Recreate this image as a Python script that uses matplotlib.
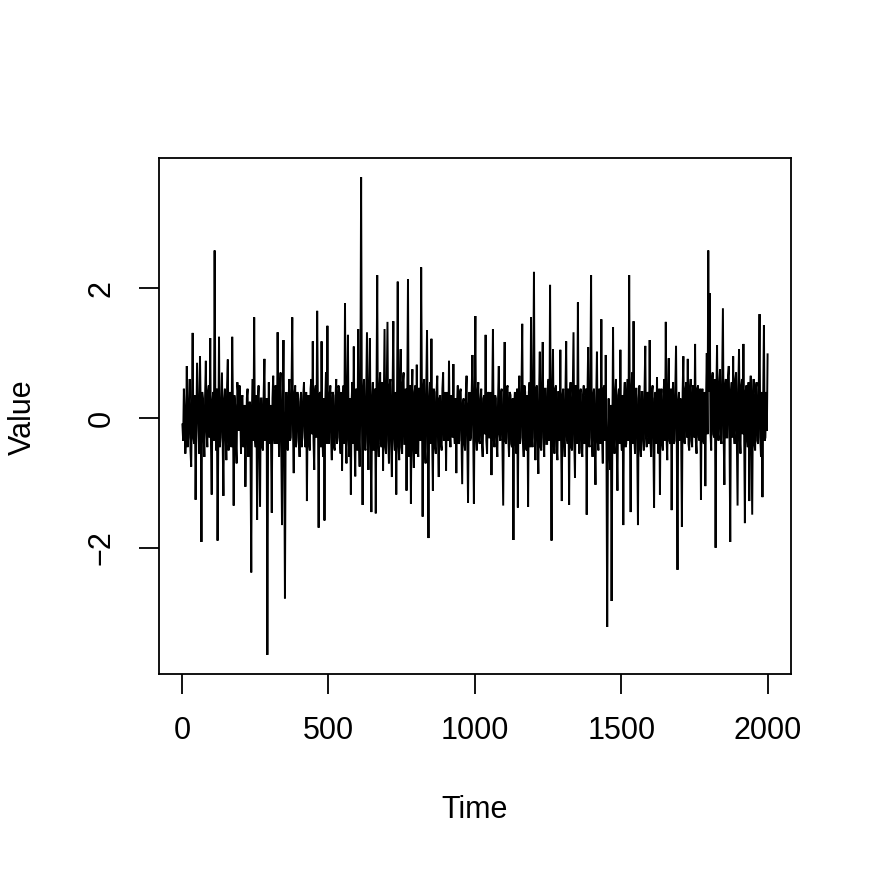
import numpy as np
import matplotlib
matplotlib.use("Agg")
import matplotlib.pyplot as plt

plt.rcParams['font.family'] = ['Liberation Sans', 'DejaVu Sans']

# Series values (one value about every 2.5 time steps)
values = [
    -0.10, -0.35, 0.45, 0.10, -0.55, -0.20, 0.80, -0.45, -0.30, 0.25, 0.60, -0.50, -0.75, 0.20, 1.31, -0.30, -0.40, 0.35, -1.26, -0.15,
    0.85, 0.30, -0.20, -0.55, 0.95, 0.15, -1.91, 0.40, 0.30, -0.25, -0.60, 0.35, 0.88, -0.20, -0.45, 0.40, 0.50, -0.30, 1.23, -0.40,
    -1.18, 0.25, 0.40, -0.35, 2.58, 0.10, -0.50, 0.45, -1.89, -0.20, 1.25, -0.45, -0.30, 0.20, 0.70, -0.40, -1.20, 0.30, 0.45, -0.25,
    -0.65, 0.50, 0.90, -0.50, -0.35, 0.40, 0.30, -0.45, 1.25, 0.15, -1.35, 0.35, 0.20, -0.40, -0.70, 0.55, 0.40, -0.20, 0.50, 0.10,
    -0.55, 0.30, 0.35, -0.45, -0.40, 0.20, -1.06, -0.30, 0.31, 0.45, -0.60, -0.10, 0.25, -0.55, -2.38, 0.20, 0.60, -0.35, 1.55, -0.30,
    -0.45, 0.35, -1.57, 0.25, 0.50, -0.40, -1.37, 0.30, 0.30, -0.45, -0.50, 0.40, 0.91, -0.35, -0.25, 0.30, -3.65, -0.20, 0.55, -0.40,
    0.20, -0.35, -1.46, 0.30, 0.65, -0.25, -0.40, 0.50, 0.45, -0.40, 1.32, 0.10, -0.60, 0.35, 0.70, -0.50, -1.65, 0.25, 1.20, -0.40,
    -2.78, -0.10, 0.40, -0.45, -0.50, 0.30, 0.60, -0.35, -0.30, 0.45, 1.55, -0.20, -0.85, 0.35, 0.50, -0.45, -0.35, 0.40, 0.30, -0.30,
    -0.60, 0.25, 0.40, -0.45, -0.20, 0.35, 0.55, -0.30, -0.45, 0.40, -1.28, 0.15, 0.35, -0.40, -0.50, 0.45, 0.60, -0.25, 1.18, -0.35,
    -0.80, 0.40, 0.50, -0.30, 1.65, 0.20, -1.69, 0.35, 0.40, -0.45, 1.18, -0.20, -0.60, 0.30, -1.58, 0.20, 0.70, -0.40, 1.42, -0.30,
    -0.40, 0.35, 0.50, -0.30, -0.65, 0.40, 0.35, -0.45, -0.50, 0.30, 0.60, -0.40, -0.30, 0.50, 0.45, -0.35, -0.55, 0.40, -0.81, 0.20,
    0.50, -0.40, 1.77, -0.25, -0.70, 0.45, 1.28, -0.35, -0.60, 0.30, -1.18, 0.25, 0.55, -0.40, 1.10, -0.30, -0.90, 0.45, 0.40, -0.50,
    1.37, -0.30, -0.75, 0.40, 3.71, 0.20, -1.34, 0.35, 0.60, -0.45, -0.50, 0.45, 1.32, -0.35, -0.80, 0.50, 1.23, -0.40, -1.45, 0.30,
    0.55, -0.50, -0.40, 0.45, -1.47, 0.30, 2.20, -0.35, -0.60, 0.45, 0.70, -0.40, -0.45, 0.55, -0.81, 0.30, 1.37, -0.45, -0.55, 0.40,
    1.48, -0.35, -0.70, 0.50, 0.60, -0.40, -0.91, 0.45, 1.49, -0.30, -0.50, 0.40, -1.18, 0.25, 2.10, -0.40, -0.65, 0.50, 1.06, -0.45,
    -0.55, 0.55, 0.70, -0.40, -0.40, 0.45, -1.12, 0.30, 2.14, -0.35, -0.60, 0.50, -1.32, 0.35, 0.75, -0.45, -0.77, 0.40, 0.50, -0.55,
    0.82, -0.40, -0.60, 0.45, 0.45, -0.35, 2.32, 0.30, -1.52, 0.40, 0.60, -0.45, -0.70, 0.50, 1.35, -0.30, -1.85, 0.25, 0.55, -0.40,
    1.22, -0.30, -1.12, 0.45, 0.40, -0.45, -0.55, 0.40, 0.65, -0.35, -0.91, 0.30, 0.35, -0.40, -0.50, 0.45, 0.70, -0.35, -0.30, 0.40,
    -0.81, 0.25, 0.40, -0.35, 0.88, -0.20, -0.45, 0.35, 0.30, -0.30, 0.83, -0.25, -0.40, 0.30, -0.85, 0.20, 0.50, -0.40, -0.35, 0.40,
    0.45, -0.30, -1.02, 0.25, 0.30, -0.40, -0.50, 0.35, 0.65, -0.30, -1.31, 0.20, 0.40, -0.35, -0.30, 0.40, 0.97, -0.25, -1.32, 0.30,
    1.57, -0.30, -0.50, 0.40, 0.55, -0.35, -0.40, 0.30, 0.45, -0.40, -0.60, 0.30, 0.35, -0.25, 1.28, -0.35, -0.55, 0.35, 0.40, -0.30,
    -0.30, 0.40, -0.88, 0.25, 1.37, -0.30, -0.45, 0.35, 0.30, -0.40, -0.60, 0.30, 0.80, -0.25, -0.35, 0.40, 0.45, -0.40, -1.35, 0.30,
    1.17, -0.35, -0.40, 0.45, 0.50, -0.30, -0.60, 0.40, 0.35, -0.40, -0.45, 0.30, -1.88, 0.20, 0.40, -0.35, -0.55, 0.45, -1.38, 0.30,
    0.65, -0.40, -0.30, 0.45, 1.45, -0.35, -0.60, 0.50, 0.40, -0.45, -0.50, 0.35, -1.37, 0.40, 0.55, -0.45, 1.55, -0.30, -0.45, 0.50,
    2.25, -0.30, -0.65, 0.45, 0.50, -0.40, -0.86, 0.35, 1.02, -0.45, -0.50, 0.55, 1.17, -0.30, -0.60, 0.45, 0.45, -0.40, -0.40, 0.50,
    0.60, -0.35, 2.05, -0.20, -1.89, 0.35, 1.06, -0.40, -0.55, 0.45, 0.50, -0.45, -0.65, 0.40, 0.40, -0.35, 1.05, -0.30, -1.28, 0.35,
    0.45, -0.35, -0.60, 0.40, 1.18, -0.30, -0.40, 0.45, -1.34, 0.30, 0.55, -0.45, -0.50, 0.40, 1.32, -0.35, -0.92, 0.50, 0.40, -0.40,
    1.78, -0.25, -0.55, 0.40, 0.45, -0.45, -0.60, 0.35, 0.50, -0.40, -0.35, 0.45, -1.49, 0.30, 1.09, -0.40, -0.45, 0.50, 2.20, -0.30,
    -0.60, 0.35, 0.45, -0.40, -1.03, 0.30, 1.02, -0.35, -0.50, 0.45, 0.40, -0.40, 1.52, -0.30, -0.70, 0.45, 0.50, -0.35, 0.97, -0.45,
    -3.22, -0.50, 0.30, -0.40, -0.80, 0.20, -2.82, -0.30, 1.40, -0.35, -0.55, 0.40, 0.60, -0.45, -1.12, 0.35, 0.45, -0.40, 1.05, -0.30,
    -0.50, 0.35, -1.65, 0.30, 0.55, -0.45, -0.40, 0.40, 0.60, -0.35, 2.20, -0.20, -1.45, 0.40, 0.70, -0.40, 1.49, -0.30, -0.55, 0.45,
    0.45, -0.40, -1.65, 0.30, 0.50, -0.45, -0.60, 0.40, 0.40, -0.35, -0.50, 0.45, 1.11, -0.30, -0.45, 0.40, 0.35, -0.40, 1.20, -0.35,
    -0.60, 0.40, 0.50, -0.35, -1.38, 0.30, 0.40, -0.40, 0.63, -0.30, -0.55, 0.45, -1.18, 0.30, 0.45, -0.40, -0.50, 0.40, 0.60, -0.35,
    1.48, -0.30, -0.65, 0.40, 0.92, -0.35, -0.40, 0.45, -1.42, 0.30, 0.55, -0.40, -0.35, 0.45, 1.11, -0.30, -2.34, 0.25, 0.40, -0.35,
    0.30, -0.30, -1.68, 0.40, 0.95, -0.35, -0.40, 0.45, 0.55, -0.30, 0.91, -0.40, -0.50, 0.45, 0.60, -0.35, -0.45, 0.50, 0.40, -0.30,
    1.14, -0.35, -0.55, 0.45, 0.50, -0.30, -0.35, 0.45, -1.26, 0.30, 0.45, -0.35, -0.40, 0.40, -1.05, 0.30, 1.00, -0.25, 2.58, 0.40,
    1.92, -0.20, -0.50, 0.55, 0.70, -0.25, -0.30, 0.60, -2.00, 0.35, 1.12, -0.20, -0.35, 0.55, 0.75, -0.30, -0.40, 0.60, 1.69, -0.25,
    -1.03, 0.50, 0.60, -0.30, -0.30, 0.65, 0.80, -0.25, -1.91, 0.40, 0.55, -0.30, 0.95, -0.20, -0.40, 0.60, 0.70, -0.30, -1.35, 0.45,
    1.06, -0.30, -0.55, 0.50, 0.60, -0.25, 1.14, -0.35, -1.62, 0.40, 0.50, -0.30, -0.45, 0.55, -1.28, 0.30, 0.65, -0.35, -1.49, 0.35,
    0.60, -0.40, -0.50, 0.45, 0.55, -0.35, -0.40, 0.45, 1.60, -0.30, -0.60, 0.40, -1.22, 0.30, 1.43, -0.35, -0.30, 0.40, -0.20, 0.98,
]
time = np.linspace(1, 2000, len(values))

x_ticks = [0, 500, 1000, 1500, 2000]
y_ticks = [-2, 0, 2]

W = H = 872
fig = plt.figure(figsize=(8.72, 8.72), dpi=100)
ax = fig.add_axes([159 / W, 1 - 674 / H, (791 - 159) / W, (674 - 158) / H])

ax.plot(time, values, color='black', linewidth=1.4, solid_joinstyle='miter')

span_x = time.max() - time.min()
ax.set_xlim(time.min() - 0.04 * span_x, time.max() + 0.04 * span_x)
vmin, vmax = min(values), max(values)
span_y = vmax - vmin
ax.set_ylim(vmin - 0.04 * span_y, vmax + 0.04 * span_y)

ax.set_xticks(x_ticks)
ax.set_xticklabels([str(t) for t in x_ticks])
ax.set_yticks(y_ticks)
ax.set_yticklabels(['\u22122' if t < 0 else str(t) for t in y_ticks])

for s in ax.spines.values():
    s.set_linewidth(1.3)
ax.tick_params(axis='both', direction='out', length=14.4, width=1.3, labelsize=22, colors='black')
ax.tick_params(axis='x', pad=16)
ax.tick_params(axis='y', pad=16)
for lab in ax.get_yticklabels():
    lab.set_rotation(90)
    lab.set_va('center')
    lab.set_ha('right')

fig.text(23 / W, 1 - 417 / H, 'Value', rotation=90, ha='center', va='center', fontsize=22)
fig.text(475 / W, 1 - 810 / H, 'Time', ha='center', va='center', fontsize=22)

fig.savefig('out.png', dpi=100, facecolor='white')
